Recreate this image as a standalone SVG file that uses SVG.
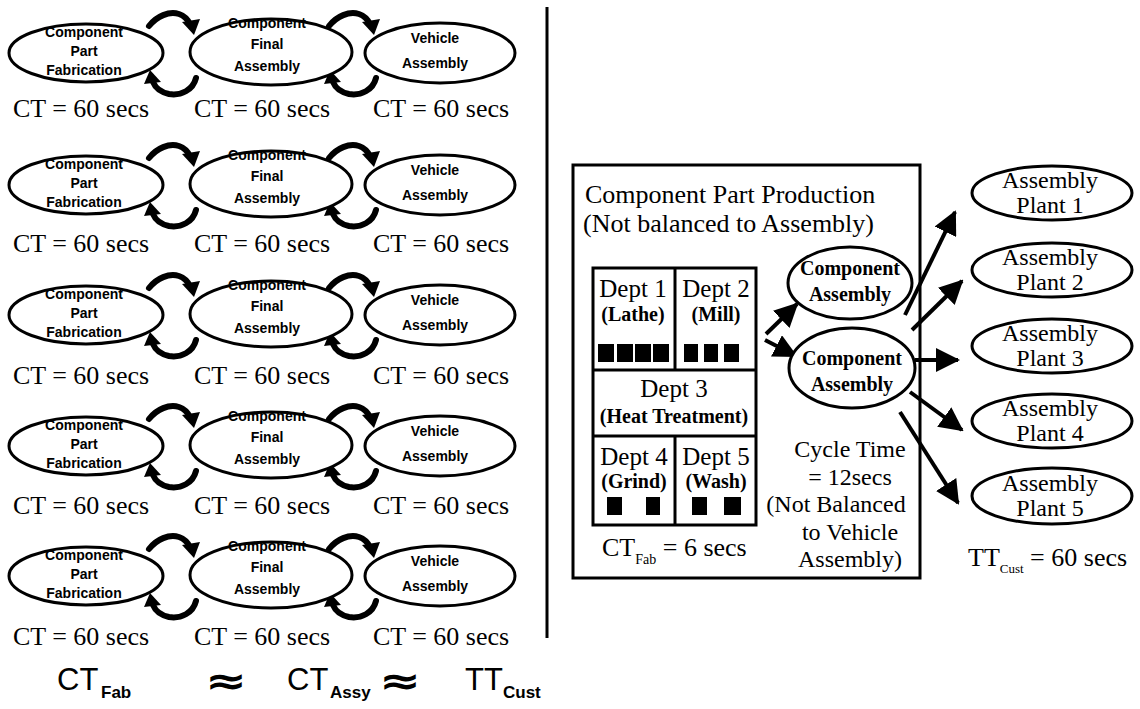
<svg xmlns="http://www.w3.org/2000/svg" width="1140" height="709" viewBox="0 0 1140 709">
<style>
.el{fill:#fff;stroke:#000;stroke-width:3}
.sm{font-family:"Liberation Sans",Arial,sans-serif;font-weight:bold;font-size:14px;text-anchor:middle;fill:#000}
.ct{font-family:"Liberation Serif","Times New Roman",serif;font-size:26px;text-anchor:middle;fill:#000}
.cy{font-family:"Liberation Serif","Times New Roman",serif;font-size:24px;text-anchor:middle;fill:#000}
.pl{font-family:"Liberation Serif","Times New Roman",serif;font-size:24px;text-anchor:middle;fill:#000}
.tr{font-family:"Liberation Serif","Times New Roman",serif;font-size:26px;fill:#000}
.dp{font-family:"Liberation Serif","Times New Roman",serif;font-size:25px;text-anchor:middle;fill:#000}
.db{font-family:"Liberation Serif","Times New Roman",serif;font-size:20px;font-weight:bold;text-anchor:middle;fill:#000}
.ca{font-family:"Liberation Serif","Times New Roman",serif;font-size:20px;font-weight:bold;text-anchor:middle;fill:#000}
.fm{font-family:"Liberation Sans",Arial,sans-serif;font-size:31px;fill:#000}
.fs{font-family:"Liberation Sans",Arial,sans-serif;font-size:17px;font-weight:bold;fill:#000}
.ap{font-family:"DejaVu Sans",sans-serif;font-size:38px;font-weight:bold;fill:#000}
.box{fill:none;stroke:#000;stroke-width:3}
.sq{fill:#000}
.cv{fill:none;stroke:#000;stroke-width:6;stroke-linecap:round}
.ln{stroke:#000;stroke-width:4;fill:none}
</style>
<defs>
<marker id="ah" markerUnits="userSpaceOnUse" markerWidth="24" markerHeight="24" refX="22" refY="12" orient="auto">
<path d="M0,0 L24,12 L0,24 z" fill="#000"/>
</marker>
<g id="cyc">
<path class="cv" d="M2,14 C10,4 22,-1 32,2 C38,4 41,8 43,12"/>
<polygon points="35,10 53,7 47,23" fill="#000"/>
<path class="cv" d="M49,66 C46,78 34,84 22,82 C13,80 8,75 6,70"/>
<polygon points="-3,72 14,70 3,58" fill="#000"/>
</g>
</defs>
<rect width="1140" height="709" fill="#fff"/>

<g id="connectors">
<use href="#cyc" x="147" y="12"/>
<use href="#cyc" x="327" y="12"/>
<use href="#cyc" x="147" y="144"/>
<use href="#cyc" x="327" y="144"/>
<use href="#cyc" x="147" y="274"/>
<use href="#cyc" x="327" y="274"/>
<use href="#cyc" x="147" y="405"/>
<use href="#cyc" x="327" y="405"/>
<use href="#cyc" x="147" y="535"/>
<use href="#cyc" x="327" y="535"/>
<line class="ln" x1="766" y1="334" x2="797" y2="304" marker-end="url(#ah)"/>
<line class="ln" x1="765" y1="340" x2="796" y2="356" marker-end="url(#ah)"/>
<line class="ln" x1="905" y1="315" x2="955" y2="212" marker-end="url(#ah)"/>
<line class="ln" x1="912" y1="330" x2="962" y2="281" marker-end="url(#ah)"/>
<line class="ln" x1="915" y1="360" x2="958" y2="360" marker-end="url(#ah)"/>
<line class="ln" x1="910" y1="392" x2="962" y2="430" marker-end="url(#ah)"/>
<line class="ln" x1="900" y1="412" x2="958" y2="503" marker-end="url(#ah)"/>
</g>

<g id="row1">
<g id="r1-fab"><ellipse class="el" cx="86" cy="53" rx="77" ry="29"/><text class="sm" x="84" y="37">Component</text><text class="sm" x="84" y="56">Part</text><text class="sm" x="84" y="75">Fabrication</text></g>
<g id="r1-assy"><ellipse class="el" cx="271" cy="52" rx="81" ry="33"/><text class="sm" x="267" y="28">Component</text><text class="sm" x="267" y="49">Final</text><text class="sm" x="267" y="71">Assembly</text></g>
<g id="r1-veh"><ellipse class="el" cx="440" cy="53" rx="75" ry="30"/><text class="sm" x="435" y="43">Vehicle</text><text class="sm" x="435" y="68">Assembly</text></g>
<text class="ct" x="81" y="117">CT = 60 secs</text><text class="ct" x="262" y="117">CT = 60 secs</text><text class="ct" x="441" y="117">CT = 60 secs</text>
</g>
<g id="row2" transform="translate(0,132)">
<g id="r2-fab"><ellipse class="el" cx="86" cy="53" rx="77" ry="29"/><text class="sm" x="84" y="37">Component</text><text class="sm" x="84" y="56">Part</text><text class="sm" x="84" y="75">Fabrication</text></g>
<g id="r2-assy"><ellipse class="el" cx="271" cy="52" rx="81" ry="33"/><text class="sm" x="267" y="28">Component</text><text class="sm" x="267" y="49">Final</text><text class="sm" x="267" y="71">Assembly</text></g>
<g id="r2-veh"><ellipse class="el" cx="440" cy="53" rx="75" ry="30"/><text class="sm" x="435" y="43">Vehicle</text><text class="sm" x="435" y="68">Assembly</text></g>
<text class="ct" x="81" y="120">CT = 60 secs</text><text class="ct" x="262" y="120">CT = 60 secs</text><text class="ct" x="441" y="120">CT = 60 secs</text>
</g>
<g id="row3" transform="translate(0,262)">
<g id="r3-fab"><ellipse class="el" cx="86" cy="53" rx="77" ry="29"/><text class="sm" x="84" y="37">Component</text><text class="sm" x="84" y="56">Part</text><text class="sm" x="84" y="75">Fabrication</text></g>
<g id="r3-assy"><ellipse class="el" cx="271" cy="52" rx="81" ry="33"/><text class="sm" x="267" y="28">Component</text><text class="sm" x="267" y="49">Final</text><text class="sm" x="267" y="71">Assembly</text></g>
<g id="r3-veh"><ellipse class="el" cx="440" cy="53" rx="75" ry="30"/><text class="sm" x="435" y="43">Vehicle</text><text class="sm" x="435" y="68">Assembly</text></g>
<text class="ct" x="81" y="122">CT = 60 secs</text><text class="ct" x="262" y="122">CT = 60 secs</text><text class="ct" x="441" y="122">CT = 60 secs</text>
</g>
<g id="row4" transform="translate(0,393)">
<g id="r4-fab"><ellipse class="el" cx="86" cy="53" rx="77" ry="29"/><text class="sm" x="84" y="37">Component</text><text class="sm" x="84" y="56">Part</text><text class="sm" x="84" y="75">Fabrication</text></g>
<g id="r4-assy"><ellipse class="el" cx="271" cy="52" rx="81" ry="33"/><text class="sm" x="267" y="28">Component</text><text class="sm" x="267" y="49">Final</text><text class="sm" x="267" y="71">Assembly</text></g>
<g id="r4-veh"><ellipse class="el" cx="440" cy="53" rx="75" ry="30"/><text class="sm" x="435" y="43">Vehicle</text><text class="sm" x="435" y="68">Assembly</text></g>
<text class="ct" x="81" y="121">CT = 60 secs</text><text class="ct" x="262" y="121">CT = 60 secs</text><text class="ct" x="441" y="121">CT = 60 secs</text>
</g>
<g id="row5" transform="translate(0,523)">
<g id="r5-fab"><ellipse class="el" cx="86" cy="53" rx="77" ry="29"/><text class="sm" x="84" y="37">Component</text><text class="sm" x="84" y="56">Part</text><text class="sm" x="84" y="75">Fabrication</text></g>
<g id="r5-assy"><ellipse class="el" cx="271" cy="52" rx="81" ry="33"/><text class="sm" x="267" y="28">Component</text><text class="sm" x="267" y="49">Final</text><text class="sm" x="267" y="71">Assembly</text></g>
<g id="r5-veh"><ellipse class="el" cx="440" cy="53" rx="75" ry="30"/><text class="sm" x="435" y="43">Vehicle</text><text class="sm" x="435" y="68">Assembly</text></g>
<text class="ct" x="81" y="122">CT = 60 secs</text><text class="ct" x="262" y="122">CT = 60 secs</text><text class="ct" x="441" y="122">CT = 60 secs</text>
</g>

<g id="formula">
<text class="fm" x="57" y="690">CT</text><text class="fs" x="101" y="698">Fab</text>
<text class="ap" x="205" y="694" textLength="42" lengthAdjust="spacingAndGlyphs">≈</text>
<text class="fm" x="287" y="690">CT</text><text class="fs" x="330" y="698">Assy</text>
<text class="ap" x="379" y="694" textLength="42" lengthAdjust="spacingAndGlyphs">≈</text>
<text class="fm" x="465" y="690">TT</text><text class="fs" x="503" y="698">Cust</text>
</g>

<line x1="547" y1="7" x2="547" y2="638" stroke="#000" stroke-width="3"/>

<g id="production">
<rect class="box" x="573" y="165" width="347" height="413"/>
<text class="tr" x="585" y="203">Component Part Production</text>
<text class="tr" x="583" y="232">(Not balanced to Assembly)</text>
<rect class="box" x="593" y="268" width="163" height="257"/>
<line class="box" x1="675" y1="268" x2="675" y2="370"/>
<line class="box" x1="593" y1="370" x2="756" y2="370"/>
<line class="box" x1="593" y1="436" x2="756" y2="436"/>
<line class="box" x1="675" y1="436" x2="675" y2="525"/>
</g>
<g id="dept1"><text class="dp" x="633" y="297">Dept 1</text><text class="db" x="633" y="321">(Lathe)</text>
<rect class="sq" x="598" y="344" width="16" height="18"/><rect class="sq" x="617" y="344" width="16" height="18"/><rect class="sq" x="635" y="344" width="16" height="18"/><rect class="sq" x="653" y="344" width="16" height="18"/></g>
<g id="dept2"><text class="dp" x="716" y="297">Dept 2</text><text class="db" x="716" y="321">(Mill)</text>
<rect class="sq" x="684" y="344" width="14" height="18"/><rect class="sq" x="704" y="344" width="14" height="18"/><rect class="sq" x="724" y="344" width="15" height="18"/></g>
<g id="dept3"><text class="dp" x="674" y="397">Dept 3</text><text class="db" x="674" y="423">(Heat Treatment)</text></g>
<g id="dept4"><text class="dp" x="634" y="465">Dept 4</text><text class="db" x="634" y="488">(Grind)</text>
<rect class="sq" x="607" y="497" width="15" height="18"/><rect class="sq" x="646" y="497" width="14" height="18"/></g>
<g id="dept5"><text class="dp" x="716" y="465">Dept 5</text><text class="db" x="716" y="488">(Wash)</text>
<rect class="sq" x="692" y="497" width="15" height="18"/><rect class="sq" x="724" y="497" width="17" height="18"/></g>
<text class="tr" x="602" y="556">CT<tspan font-size="14" dy="8">Fab</tspan><tspan dy="-8"> = 6 secs</tspan></text>

<g id="ca1"><ellipse class="el" cx="850" cy="283" rx="62" ry="36"/><text class="ca" x="850" y="275">Component</text><text class="ca" x="850" y="301">Assembly</text></g>
<g id="ca2"><ellipse class="el" cx="852" cy="368" rx="63" ry="40"/><text class="ca" x="852" y="365">Component</text><text class="ca" x="852" y="391">Assembly</text></g>
<g id="cycle">
<text class="cy" x="850" y="457">Cycle Time</text>
<text class="cy" x="850" y="484.5">= 12secs</text>
<text class="cy" x="836" y="512">(Not Balanced</text>
<text class="cy" x="850" y="539.5">to Vehicle</text>
<text class="cy" x="850" y="567">Assembly)</text>
</g>

<g id="plant1"><ellipse class="el" cx="1052" cy="193" rx="80" ry="27"/><text class="pl" x="1050" y="188">Assembly</text><text class="pl" x="1050" y="213">Plant 1</text></g>
<g id="plant2"><ellipse class="el" cx="1052" cy="270" rx="80" ry="27"/><text class="pl" x="1050" y="265">Assembly</text><text class="pl" x="1050" y="290">Plant 2</text></g>
<g id="plant3"><ellipse class="el" cx="1052" cy="346" rx="80" ry="27"/><text class="pl" x="1050" y="341">Assembly</text><text class="pl" x="1050" y="366">Plant 3</text></g>
<g id="plant4"><ellipse class="el" cx="1052" cy="421" rx="80" ry="27"/><text class="pl" x="1050" y="416">Assembly</text><text class="pl" x="1050" y="441">Plant 4</text></g>
<g id="plant5"><ellipse class="el" cx="1052" cy="496" rx="80" ry="28"/><text class="pl" x="1050" y="491">Assembly</text><text class="pl" x="1050" y="516">Plant 5</text></g>
<text class="tr" x="968" y="566">TT<tspan font-size="13" dy="7">Cust</tspan><tspan dy="-7"> = 60 secs</tspan></text>
</svg>
